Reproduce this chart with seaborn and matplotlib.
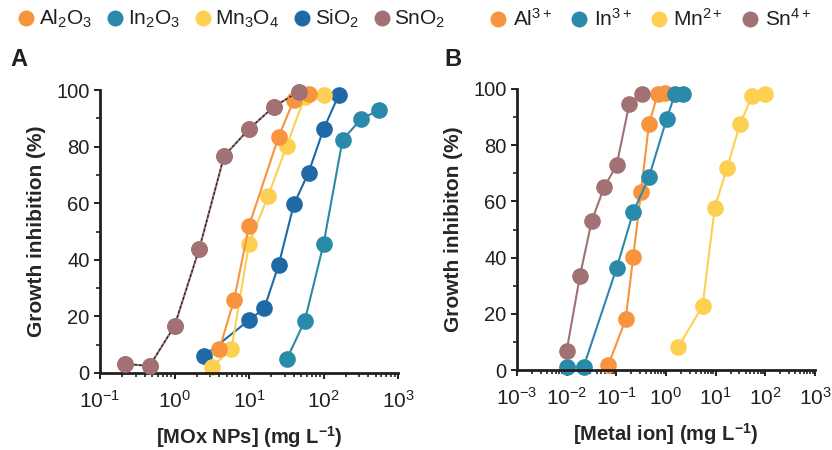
import numpy as np
import pandas as pd
import matplotlib
matplotlib.use("Agg")
import matplotlib.pyplot as plt
import seaborn as sns
from matplotlib.lines import Line2D
from matplotlib.ticker import LogLocator, MultipleLocator, NullFormatter

# ---------------- data ----------------
# Panel A: metal-oxide nanoparticles
al2o3_x = [4.0, 6.3, 10.0, 25.0, 40.0, 63.0]
al2o3_y = [8.4, 25.8, 52.0, 83.5, 96.5, 98.6]
in2o3_x = [32.0, 56.0, 100.0, 180.0, 320.0, 560.0]
in2o3_y = [4.8, 18.4, 45.5, 82.3, 89.8, 92.9]
mn3o4_x = [3.2, 5.8, 10.0, 18.0, 32.0, 56.0, 100.0]
mn3o4_y = [2.2, 8.4, 45.6, 62.5, 80.2, 97.6, 98.2]
sio2_x = [2.5, 10.0, 16.0, 25.0, 40.0, 63.0, 100.0, 160.0]
sio2_y = [6.0, 18.7, 22.8, 38.2, 59.6, 70.8, 86.1, 98.2]
sno2_x = [0.215, 0.464, 1.0, 2.15, 4.64, 10.0, 21.5, 46.4]
sno2_y = [3.2, 2.5, 16.6, 43.9, 76.7, 86.2, 94.1, 99.4]

# Panel B: metal ions
al_x = [0.069, 0.154, 0.219, 0.313, 0.453, 0.68, 0.95]
al_y = [1.8, 18.0, 40.3, 63.2, 87.4, 98.2, 98.7]
in_x = [0.010, 0.022, 0.101, 0.219, 0.453, 1.03, 1.51, 2.22]
in_y = [1.2, 1.2, 36.2, 56.2, 68.6, 89.3, 98.2, 98.2]
mn_x = [1.76, 5.45, 9.6, 17.0, 30.7, 54.2, 97.7]
mn_y = [8.1, 22.8, 57.8, 72.0, 87.4, 97.5, 98.2]
sn_x = [0.010, 0.0185, 0.0318, 0.0571, 0.101, 0.182, 0.323]
sn_y = [6.8, 33.5, 52.9, 65.2, 72.8, 94.6, 98.2]

names_a = ["Al2O3", "In2O3", "Mn3O4", "SiO2", "SnO2"]
labels_a = [r"Al$_2$O$_3$", r"In$_2$O$_3$", r"Mn$_3$O$_4$", r"SiO$_2$", r"SnO$_2$"]
names_b = ["Al3+", "In3+", "Mn2+", "Sn4+"]
labels_b = [r"Al$^{3+}$", r"In$^{3+}$", r"Mn$^{2+}$", r"Sn$^{4+}$"]

c_orange = "#f7943d"
c_teal = "#2a8aa9"
c_yellow = "#fdd052"
c_blue = "#1f69a6"
c_brown = "#a27174"
pal_a = dict(zip(names_a, [c_orange, c_teal, c_yellow, c_blue, c_brown]))
pal_b = dict(zip(names_b, [c_orange, c_teal, c_yellow, c_brown]))

def long_df(names, xs, ys):
    rows = []
    for n, x, y in zip(names, xs, ys):
        for i, (a, b) in enumerate(zip(x, y)):
            rows.append({"series": n, "conc": a, "inhib": b, "order": i})
    return pd.DataFrame(rows)

df_a = long_df(names_a, [al2o3_x, in2o3_x, mn3o4_x, sio2_x, sno2_x],
               [al2o3_y, in2o3_y, mn3o4_y, sio2_y, sno2_y])
df_b = long_df(names_b, [al_x, in_x, mn_x, sn_x], [al_y, in_y, mn_y, sn_y])

# ---------------- style ----------------
sns.set_theme(style="ticks")
plt.rcParams["font.family"] = ["Liberation Sans", "DejaVu Sans"]
plt.rcParams["mathtext.fontset"] = "custom"
plt.rcParams["mathtext.rm"] = "Liberation Sans"
plt.rcParams["mathtext.it"] = "Liberation Sans:italic"
plt.rcParams["mathtext.bf"] = "Liberation Sans:bold"
plt.rcParams["axes.unicode_minus"] = False
plt.rcParams["text.color"] = "#231f20"

fig = plt.figure(figsize=(8.32, 4.5), dpi=100)
ax_a = fig.add_axes([100 / 832, 1 - 373 / 450, 298 / 832, 283 / 450])
ax_b = fig.add_axes([517 / 832, 1 - 370 / 450, 298 / 832, 281 / 450])

MS = 12

sns.lineplot(data=df_a, x="conc", y="inhib", hue="series",
             hue_order=names_a[::-1], palette=pal_a, marker="o",
             markersize=MS, markeredgewidth=0, linewidth=1.5, sort=False,
             estimator=None, units="series", legend=False, ax=ax_a)
# dashed black overlay on SnO2 line, then markers on top
ax_a.plot(sno2_x, sno2_y, color="#222222", lw=0.9, dashes=(2.2, 1.6),
          zorder=2.5, clip_on=False)
sns.scatterplot(x=sno2_x, y=sno2_y, color=c_brown, s=MS ** 2, linewidth=0,
                zorder=3, ax=ax_a, clip_on=False)

sns.lineplot(data=df_b, x="conc", y="inhib", hue="series",
             hue_order=names_b, palette=pal_b, marker="o",
             markersize=MS, markeredgewidth=0, linewidth=1.5, sort=False,
             estimator=None, units="series", legend=False, ax=ax_b)

for ax in (ax_a, ax_b):
    for ln in ax.lines:
        ln.set_clip_on(False)
    for col in ax.collections:
        col.set_clip_on(False)

def style_axis(ax, xlim, xlabel, ylabel):
    ax.set_xscale("log")
    ax.set_xlim(*xlim)
    ax.set_ylim(0, 100)
    ax.yaxis.set_major_locator(MultipleLocator(20))
    ax.yaxis.set_minor_locator(MultipleLocator(10))
    ax.xaxis.set_major_locator(LogLocator(base=10, numticks=20))
    ax.xaxis.set_minor_locator(LogLocator(base=10, subs=np.arange(2, 10), numticks=20))
    ax.xaxis.set_minor_formatter(NullFormatter())
    for s in ("top", "right"):
        ax.spines[s].set_visible(False)
    for s in ("left", "bottom"):
        ax.spines[s].set_linewidth(2.0)
        ax.spines[s].set_color("#231f20")
    ax.tick_params(axis="both", which="major", direction="out", length=4,
                   width=1.4, color="#231f20", labelsize=14.5,
                   labelcolor="#231f20")
    ax.tick_params(axis="both", which="minor", direction="out", length=3,
                   width=1.2, color="#231f20")
    ax.tick_params(axis="x", which="major", pad=8, labelsize=15)
    ax.set_xlabel(xlabel, fontsize=14.5, fontweight="bold", labelpad=9)
    ax.set_ylabel(ylabel, fontsize=15, fontweight="bold", labelpad=7)

style_axis(ax_a, (0.1, 1000), r"[MOx NPs] (mg L$\mathbf{^{-1}}$)",
           "Growth inhibition (%)")
style_axis(ax_b, (0.001, 1000), r"[Metal ion] (mg L$\mathbf{^{-1}}$)",
           "Growth inhibiton (%)")

fig.text(10 / 832, 1 - 66 / 450, "A", fontsize=17, fontweight="bold")
fig.text(444 / 832, 1 - 66 / 450, "B", fontsize=17, fontweight="bold")

def handles(names, pal):
    return [Line2D([], [], linestyle="none", marker="o", markersize=11.5,
                   markeredgewidth=0, color=pal[n]) for n in names]

fig.legend(handles(names_a, pal_a), labels_a, loc="center left",
           bbox_to_anchor=(19 / 832, 1 - 19 / 450), ncol=5, frameon=False,
           fontsize=15, handlelength=0.7, handletextpad=0.25,
           columnspacing=0.75, borderpad=0, borderaxespad=0)
fig.legend(handles(names_b, pal_b), labels_b, loc="center left",
           bbox_to_anchor=(491 / 832, 1 - 19 / 450), ncol=4, frameon=False,
           fontsize=15, handlelength=0.7, handletextpad=0.35,
           columnspacing=0.95, borderpad=0, borderaxespad=0)

fig.savefig("out.png", dpi=100)
